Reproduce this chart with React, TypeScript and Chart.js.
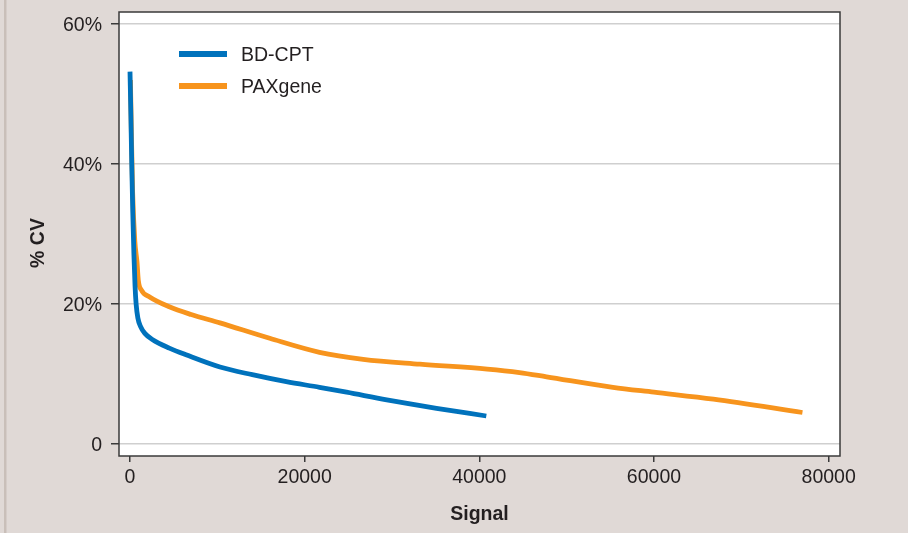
import React, { useEffect, useRef } from "react";
import { Chart, registerables } from "chart.js";

Chart.register(...registerables);

// ---- data ----
const seriesNames = ["BD-CPT", "PAXgene"];
const seriesColors = ["#0072bc", "#f7941d"];

const bdCptSignal = [0, 100, 200, 320, 450, 580, 700, 900, 1200, 1700, 2600, 4500, 6500, 10300, 14000, 17900, 21700, 24800, 29400, 35100, 40800];
const bdCptCv = [53.2, 47, 40, 33, 27, 22.5, 20, 18, 16.8, 15.8, 14.9, 13.7, 12.7, 11.0, 9.9, 8.9, 8.1, 7.4, 6.3, 5.1, 4.0];

const paxSignal = [50, 150, 300, 550, 800, 950, 1300, 2250, 4500, 7000, 10300, 16000, 21700, 26700, 33200, 40900, 44600, 47700, 55300, 60000, 66800, 77000];
const paxCv = [52, 45, 36, 29, 26, 23.4, 22, 21, 19.6, 18.5, 17.3, 15.1, 13.1, 12.1, 11.4, 10.7, 10.2, 9.6, 8.1, 7.4, 6.4, 4.5];

const xTicks = [0, 20000, 40000, 60000, 80000];
const yTicks = [0, 20, 40, 60];
const yTickLabels = ["0", "20%", "40%", "60%"];
const xTitle = "Signal";
const yTitle = "% CV";

const FONT = "'Liberation Sans', Arial, Helvetica, sans-serif";
const TEXT = "#231f20";
const BG = "#e0d9d6";

const decorPlugin = {
  id: "decor",
  beforeDraw(chart: any) {
    const { ctx, chartArea: a, width, height } = chart;
    ctx.save();
    ctx.fillStyle = BG;
    ctx.fillRect(0, 0, width, height);
    ctx.fillStyle = "#c9bfb9";
    ctx.fillRect(4, 0, 2.5, height);
    ctx.fillStyle = "#ffffff";
    ctx.fillRect(a.left, a.top, a.right - a.left, a.bottom - a.top);
    ctx.restore();
  },
  afterDraw(chart: any) {
    const { ctx, chartArea: a } = chart;
    ctx.save();
    // frame
    ctx.strokeStyle = "#3a3a3a";
    ctx.lineWidth = 1.5;
    ctx.strokeRect(a.left, a.top, a.right - a.left, a.bottom - a.top);
    // axis titles
    ctx.fillStyle = TEXT;
    ctx.font = `bold 19.5px ${FONT}`;
    ctx.textAlign = "center";
    ctx.textBaseline = "alphabetic";
    ctx.fillText(xTitle, (a.left + a.right) / 2, 520);
    ctx.save();
    ctx.translate(43.5, 243);
    ctx.rotate(-Math.PI / 2);
    ctx.fillText(yTitle, 0, 0);
    ctx.restore();
    // legend
    const rows = [54, 86];
    ctx.font = `19.5px ${FONT}`;
    ctx.textAlign = "left";
    chart.data.datasets.forEach((ds: any, i: number) => {
      const y = rows[i];
      ctx.strokeStyle = ds.borderColor;
      ctx.lineWidth = 6;
      ctx.lineCap = "butt";
      ctx.beginPath();
      ctx.moveTo(179, y);
      ctx.lineTo(227, y);
      ctx.stroke();
      ctx.fillStyle = TEXT;
      ctx.fillText(ds.label, 241, y + 6.5);
    });
    ctx.restore();
  },
};

export default function App() {
  const ref = useRef<HTMLCanvasElement | null>(null);

  useEffect(() => {
    document.body.style.margin = "0";
    const canvas = ref.current!;
    const chart = new Chart(canvas, {
      type: "line",
      data: {
        datasets: [
          {
            label: seriesNames[0],
            data: bdCptSignal.map((x, i) => ({ x, y: bdCptCv[i] })),
            borderColor: seriesColors[0],
            borderWidth: 4.8,
            pointRadius: 0,
            tension: 0.4,
            cubicInterpolationMode: "monotone",
            fill: false,
          },
          {
            label: seriesNames[1],
            data: paxSignal.map((x, i) => ({ x, y: paxCv[i] })),
            borderColor: seriesColors[1],
            borderWidth: 4.8,
            pointRadius: 0,
            tension: 0.4,
            cubicInterpolationMode: "monotone",
            fill: false,
          },
        ],
      },
      options: {
        responsive: false,
        animation: false,
        devicePixelRatio: 1,
        layout: { padding: { top: 12, right: 68, left: 0, bottom: 0 } },
        plugins: {
          legend: { display: false },
          tooltip: { enabled: false },
          title: { display: false },
        },
        scales: {
          x: {
            type: "linear",
            min: -1260,
            max: 81300,
            afterBuildTicks: (s: any) => {
              s.ticks = xTicks.map((v) => ({ value: v }));
            },
            afterFit: (s: any) => {
              s.height = 77;
              s.paddingLeft = 0;
              s.paddingRight = 0;
            },
            grid: {
              drawOnChartArea: false,
              drawTicks: true,
              tickLength: 6,
              tickColor: "#3a3a3a",
              lineWidth: 1.5,
            },
            border: { display: false },
            ticks: {
              color: TEXT,
              font: { family: FONT, size: 19.5 },
              padding: 4,
              maxRotation: 0,
              autoSkip: false,
              callback: (v: any) => String(v),
            },
          },
          y: {
            type: "linear",
            min: -12 / 7,
            max: 60 + 12 / 7,
            afterBuildTicks: (s: any) => {
              s.ticks = yTicks.map((v) => ({ value: v }));
            },
            afterFit: (s: any) => {
              s.width = 119;
              s.paddingTop = 0;
              s.paddingBottom = 0;
            },
            grid: {
              drawOnChartArea: true,
              drawTicks: true,
              tickLength: 8,
              color: "#cfcfcf",
              tickColor: "#3a3a3a",
              lineWidth: 1.5,
            },
            border: { display: false },
            ticks: {
              color: TEXT,
              font: { family: FONT, size: 19.5 },
              padding: 9,
              labelOffset: 2,
              autoSkip: false,
              callback: (v: any) => {
                const i = yTicks.indexOf(Number(v));
                return i >= 0 ? yTickLabels[i] : "";
              },
            },
          },
        },
      } as any,
      plugins: [decorPlugin],
    });
    return () => chart.destroy();
  }, []);

  return (
    <div style={{ width: 908, height: 533, position: "relative", background: BG }}>
      <canvas ref={ref} width={908} height={533} style={{ display: "block" }} />
    </div>
  );
}
